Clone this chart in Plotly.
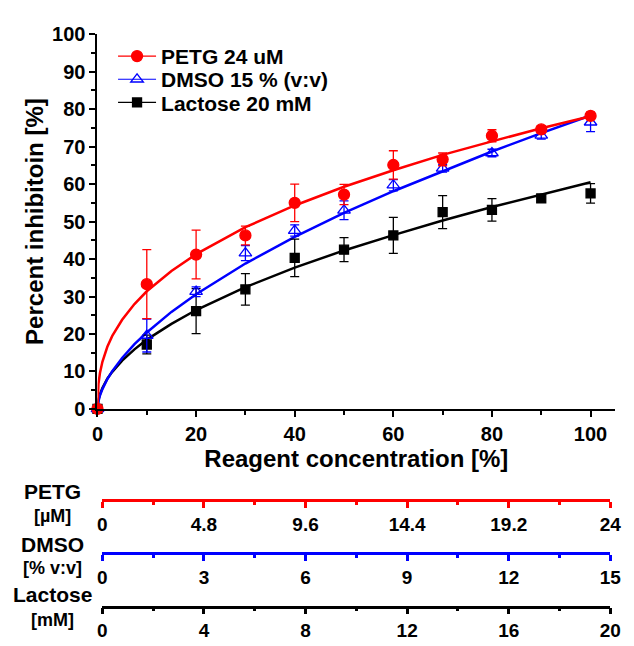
import plotly.graph_objects as go

# ---------------- data ----------------
conc = [0, 10, 20, 30, 40, 50, 60, 70, 80, 90, 100]
petg = [0, 33.3, 41.2, 46.3, 55.0, 57.2, 65.1, 66.6, 72.9, 74.6, 78.2]
petg_err = [0, 9.2, 6.5, 2.5, 5.0, 2.7, 3.8, 1.7, 1.6, 1.0, 1.0]
dmso = [0, 19.6, 31.3, 41.6, 47.6, 53.0, 59.7, 64.2, 68.3, 73.0, 76.5]
dmso_err = [0, 4.4, 1.3, 2.0, 1.5, 2.5, 1.5, 1.0, 1.0, 1.0, 2.5]
lactose = [0, 17.2, 26.1, 31.9, 40.3, 42.5, 46.3, 52.5, 53.1, 56.2, 57.5]
lactose_err = [0, 2.5, 6.0, 4.2, 5.0, 3.2, 4.8, 4.4, 3.0, 1.0, 2.6]

# fitted curves
fit_x = [0, 0.2, 0.5, 1, 2, 3, 5, 7.5, 10, 15, 20, 30, 40, 50, 60, 70, 80, 90, 100]
petg_fit = [0, 6.7, 9.6, 12.6, 16.6, 19.5, 23.8, 28.0, 31.4, 36.8, 41.3, 48.5, 54.3,
            59.3, 63.7, 67.8, 71.4, 74.9, 78.1]
dmso_fit = [0, 2.1, 3.6, 5.3, 8.0, 10.1, 13.6, 17.3, 20.4, 25.9, 30.6, 38.8, 45.9,
            52.3, 58.1, 63.5, 68.7, 73.6, 78.3]
lactose_fit = [0, 2.5, 3.9, 5.6, 8.1, 9.9, 12.9, 15.9, 18.5, 22.7, 26.4, 32.5, 37.7,
               42.3, 46.4, 50.3, 53.9, 57.2, 60.5]

x_ticks = [0, 20, 40, 60, 80, 100]
y_ticks = [0, 10, 20, 30, 40, 50, 60, 70, 80, 90, 100]

petg_ticks = [0, 4.8, 9.6, 14.4, 19.2, 24]
petg_labels = ["0", "4.8", "9.6", "14.4", "19.2", "24"]
petg_minor = [2.4, 7.2, 12.0, 16.8, 21.6]
dmso_ticks = [0, 3, 6, 9, 12, 15]
dmso_labels = ["0", "3", "6", "9", "12", "15"]
dmso_minor = [1.5, 4.5, 7.5, 10.5, 13.5]
lac_ticks = [0, 4, 8, 12, 16, 20]
lac_labels = ["0", "4", "8", "12", "16", "20"]
lac_minor = [2, 6, 10, 14, 18]

names = ["PETG 24 uM", "DMSO 15 % (v:v)", "Lactose 20 mM"]

RED = "#ff0000"
BLUE = "#0000ff"
BLACK = "#000000"
FONT = "Liberation Sans, Arial, sans-serif"

W, H = 634, 646

fig = go.Figure()

def px_x(p):
    return p / W

def px_y(p):
    return 1 - p / H

# curves
for fx, col in [(lactose_fit, BLACK), (dmso_fit, BLUE), (petg_fit, RED)]:
    fig.add_trace(go.Scatter(x=fit_x, y=fx, mode="lines", line=dict(color=col, width=2.5),
                             showlegend=False, hoverinfo="skip"))

# data points with error bars
series = [
    (lactose, lactose_err, BLACK, "square", 9, BLACK),
    (dmso, dmso_err, BLUE, "triangle-up-open", 11, BLUE),
    (petg, petg_err, RED, "circle", 11, RED),
]
for vals, errs, col, sym, sz, mcol in series:
    fig.add_trace(go.Scatter(
        x=conc, y=vals, mode="markers",
        marker=dict(symbol=sym, size=sz, color=mcol, line=dict(color=col, width=1.3)),
        error_y=dict(type="data", array=errs, visible=True, color=col, thickness=1.3, width=4.5),
        showlegend=False, cliponaxis=False))

# legend-only entries, one legend each so the row spacing can match
legend_rows = [("legend", names[0], RED, "circle", 11, 47),
               ("legend2", names[1], BLUE, "triangle-up-open", 11, 71),
               ("legend3", names[2], BLACK, "square", 9, 95)]
for lg, nm, col, sym, sz, _ in legend_rows:
    fig.add_trace(go.Scatter(x=[None], y=[None], mode="lines+markers", name=nm, legend=lg,
                             line=dict(color=col, width=1.2),
                             marker=dict(symbol=sym, size=sz, color=col, line=dict(color=col, width=1.3))))

# dummy traces for the extra concentration scales
for ax, rng in [("x2", [0, 24]), ("x3", [0, 15]), ("x4", [0, 20])]:
    fig.add_trace(go.Scatter(x=rng, y=[None, None], xaxis=ax, yaxis="y", mode="markers",
                             showlegend=False, hoverinfo="skip"))

tickfont = dict(family=FONT, size=20, color="black", weight="bold")
titlefont = dict(family=FONT, size=24, color="black", weight="bold")

fig.update_layout(
    width=W, height=H,
    margin=dict(l=0, r=0, t=0, b=0),
    paper_bgcolor="white", plot_bgcolor="rgba(0,0,0,0)",
    font=dict(family=FONT, color="black"),
    xaxis=dict(domain=[px_x(94), px_x(626)], range=[0, 105], anchor="y",
               showline=True, linecolor="black", linewidth=2, showgrid=False, zeroline=False,
               tickmode="array", tickvals=x_ticks, ticks="outside", ticklen=6, tickwidth=2,
               tickcolor="black", tickfont=tickfont,
               minor=dict(dtick=10, tick0=0, ticks="outside", ticklen=4, tickwidth=2, tickcolor="black"),
               title=dict(text="Reagent concentration [%]", font=titlefont, standoff=1)),
    yaxis=dict(domain=[px_y(412), px_y(24)], range=[0, 100], anchor="x",
               showline=True, linecolor="black", linewidth=2, showgrid=False, zeroline=False,
               tickmode="array", tickvals=y_ticks, ticks="outside", ticklen=6, tickwidth=2,
               tickcolor="black", tickfont=tickfont,
               minor=dict(dtick=5, tick0=0, ticks="outside", ticklen=4, tickwidth=2, tickcolor="black"),
               title=dict(text="Percent inhibitoin [%]", font=titlefont, standoff=2)),
)

for lg, _, _, _, _, ypix in legend_rows:
    fig.update_layout({lg: dict(x=px_x(110), y=px_y(ypix), xanchor="left", yanchor="middle",
                                bgcolor="rgba(0,0,0,0)", borderwidth=0, itemwidth=38,
                                font=dict(family=FONT, size=21, color="black", weight="bold"))})

lower = [("xaxis2", 506.5, RED, petg_ticks, petg_labels, petg_minor, [0, 24]),
         ("xaxis3", 561.5, BLUE, dmso_ticks, dmso_labels, dmso_minor, [0, 15]),
         ("xaxis4", 616.5, BLACK, lac_ticks, lac_labels, lac_minor, [0, 20])]
for key, ypix, col, tv, tt, mv, rng in lower:
    fig.update_layout({key: dict(
        domain=[px_x(99), px_x(621)], range=rng, anchor="free", position=px_y(ypix),
        showline=True, linecolor=col, linewidth=2.5, showgrid=False, zeroline=False,
        tickmode="array", tickvals=tv, ticktext=tt, ticks="outside", ticklen=6, tickwidth=2.5,
        tickcolor=col, tickfont=dict(family=FONT, size=19, color="black", weight="bold"),
        minor=dict(tickvals=mv, ticks="outside", ticklen=3, tickwidth=2.5, tickcolor=col),
        fixedrange=True)})

# labels for the extra scales
labels = [("PETG", 497, 21), ("[µM]", 523, 18), ("DMSO", 552, 21), ("[% v:v]", 577, 18),
          ("Lactose", 604, 21), ("[mM]", 630, 18)]
for txt, ypix, sz in labels:
    fig.add_annotation(text=txt, x=px_x(48), y=px_y(ypix), xref="paper", yref="paper",
                       xanchor="center", yanchor="middle", showarrow=False,
                       font=dict(family=FONT, size=sz, color="black", weight="bold"))

fig.write_html("out.html")
